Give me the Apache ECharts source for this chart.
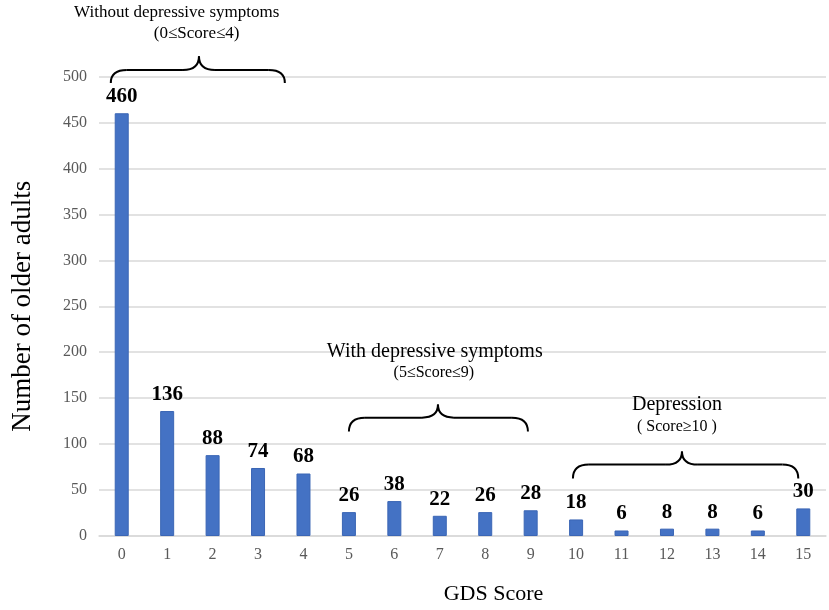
<!DOCTYPE html>
<html>
<head>
<meta charset="utf-8">
<script src="https://cdn.jsdelivr.net/npm/echarts@6/dist/echarts.min.js"></script>
<style>
  html, body { margin: 0; padding: 0; background: #fff; }
  #main { width: 829px; height: 610px; }
</style>
</head>
<body>
<div id="main"></div>
<script>
// GDS score distribution
var scores = ['0','1','2','3','4','5','6','7','8','9','10','11','12','13','14','15'];
var counts = [460, 136, 88, 74, 68, 26, 38, 22, 26, 28, 18, 6, 8, 8, 6, 30];
var yTicks = [0, 50, 100, 150, 200, 250, 300, 350, 400, 450, 500];

// group braces, in axis units (category index / value)
var groups = [
    {title: 'Without depressive symptoms', sub: '(0\u2264Score\u22644)', titleSize: 17, subSize: 17,
     from: -0.24, to: 3.59, tip: 1.70, base: 493, mid: 507, top: 522,
     titleAt: [1.21, 570], subAt: [1.65, 547]},
    {title: 'With depressive symptoms', sub: '(5\u2264Score\u22649)', titleSize: 20, subSize: 16,
     from: 5.0, to: 8.94, tip: 6.96, base: 113.6, mid: 128.8, top: 143,
     titleAt: [6.89, 200.5], subAt: [6.87, 177.7]},
    {title: 'Depression', sub: '( Score\u226510 )', titleSize: 20, subSize: 16,
     from: 9.93, to: 14.89, tip: 12.33, base: 62.5, mid: 77.7, top: 92,
     titleAt: [12.22, 143], subAt: [12.22, 119]}
];

var serif = '"Liberation Serif", "Times New Roman", serif';
var myChart = echarts.init(document.getElementById('main'));

var option = {
    animation: false,
    grid: {
        left: 99,
        right: 3,
        top: 76.5,
        bottom: 73.5
    },
    xAxis: {
        type: 'category',
        data: scores,
        name: 'GDS Score',
        nameLocation: 'middle',
        nameGap: 47,
        nameTextStyle: {
            fontFamily: serif,
            fontSize: 22,
            color: '#000',
            padding: [0, 0, 0, 62]
        },
        axisLine: {lineStyle: {color: '#d9d9d9', width: 1.5}},
        axisTick: {show: false},
        axisLabel: {fontFamily: serif, fontSize: 16, color: '#595959', margin: 11}
    },
    yAxis: {
        type: 'value',
        min: yTicks[0],
        max: yTicks[yTicks.length - 1],
        interval: yTicks[1] - yTicks[0],
        name: 'Number of older adults',
        nameLocation: 'middle',
        nameGap: 63,
        nameTextStyle: {fontFamily: serif, fontSize: 27, color: '#000'},
        axisLine: {show: false},
        axisTick: {show: false},
        axisLabel: {fontFamily: serif, fontSize: 16, color: '#595959', margin: 12},
        splitLine: {lineStyle: {color: '#d9d9d9', width: 1.5}}
    },
    series: [{
        type: 'bar',
        data: counts,
        barWidth: 14,
        itemStyle: {color: '#4472c4', borderColor: '#3b66b5', borderWidth: 1},
        label: {
            show: true,
            position: 'top',
            distance: 6,
            fontFamily: serif,
            fontSize: 21,
            fontWeight: 'bold',
            color: '#000'
        }
    }]
};
myChart.setOption(option);

// braces and group captions, placed through the axes
function px(cat, val) {
    var x0 = myChart.convertToPixel({xAxisIndex: 0}, 0);
    var x1 = myChart.convertToPixel({xAxisIndex: 0}, 1);
    var y = myChart.convertToPixel({yAxisIndex: 0}, val);
    return [x0 + (x1 - x0) * cat, y];
}

var stroke = {stroke: '#000', lineWidth: 2, fill: null};
function curve(x1, y1, cx, cy, x2, y2) {
    return {type: 'bezierCurve', shape: {x1: x1, y1: y1, cpx1: cx, cpy1: cy, x2: x2, y2: y2}, style: stroke};
}
function seg(x1, y1, x2, y2) {
    return {type: 'line', shape: {x1: x1, y1: y1, x2: x2, y2: y2}, style: stroke};
}

var elements = [];
groups.forEach(function (g) {
    var l = px(g.from, g.base), r = px(g.to, g.base);
    var t = px(g.tip, g.top), m = px(g.tip, g.mid);
    var ym = m[1], k = 16;
    elements.push(curve(l[0], l[1], l[0], ym, l[0] + k, ym));
    elements.push(seg(l[0] + k, ym, t[0] - k, ym));
    elements.push(curve(t[0] - k, ym, t[0], ym, t[0], t[1]));
    elements.push(curve(t[0], t[1], t[0], ym, t[0] + k, ym));
    elements.push(seg(t[0] + k, ym, r[0] - k, ym));
    elements.push(curve(r[0] - k, ym, r[0], ym, r[0], r[1]));

    var tp = px(g.titleAt[0], g.titleAt[1]);
    var sp = px(g.subAt[0], g.subAt[1]);
    elements.push({
        type: 'text', x: tp[0], y: tp[1],
        style: {text: g.title, fontFamily: serif, fontSize: g.titleSize, fill: '#000',
                align: 'center', verticalAlign: 'middle'}
    });
    elements.push({
        type: 'text', x: sp[0], y: sp[1],
        style: {text: g.sub, fontFamily: serif, fontSize: g.subSize, fill: '#000',
                align: 'center', verticalAlign: 'middle'}
    });
});
myChart.setOption({graphic: {elements: elements}});
</script>
</body>
</html>
